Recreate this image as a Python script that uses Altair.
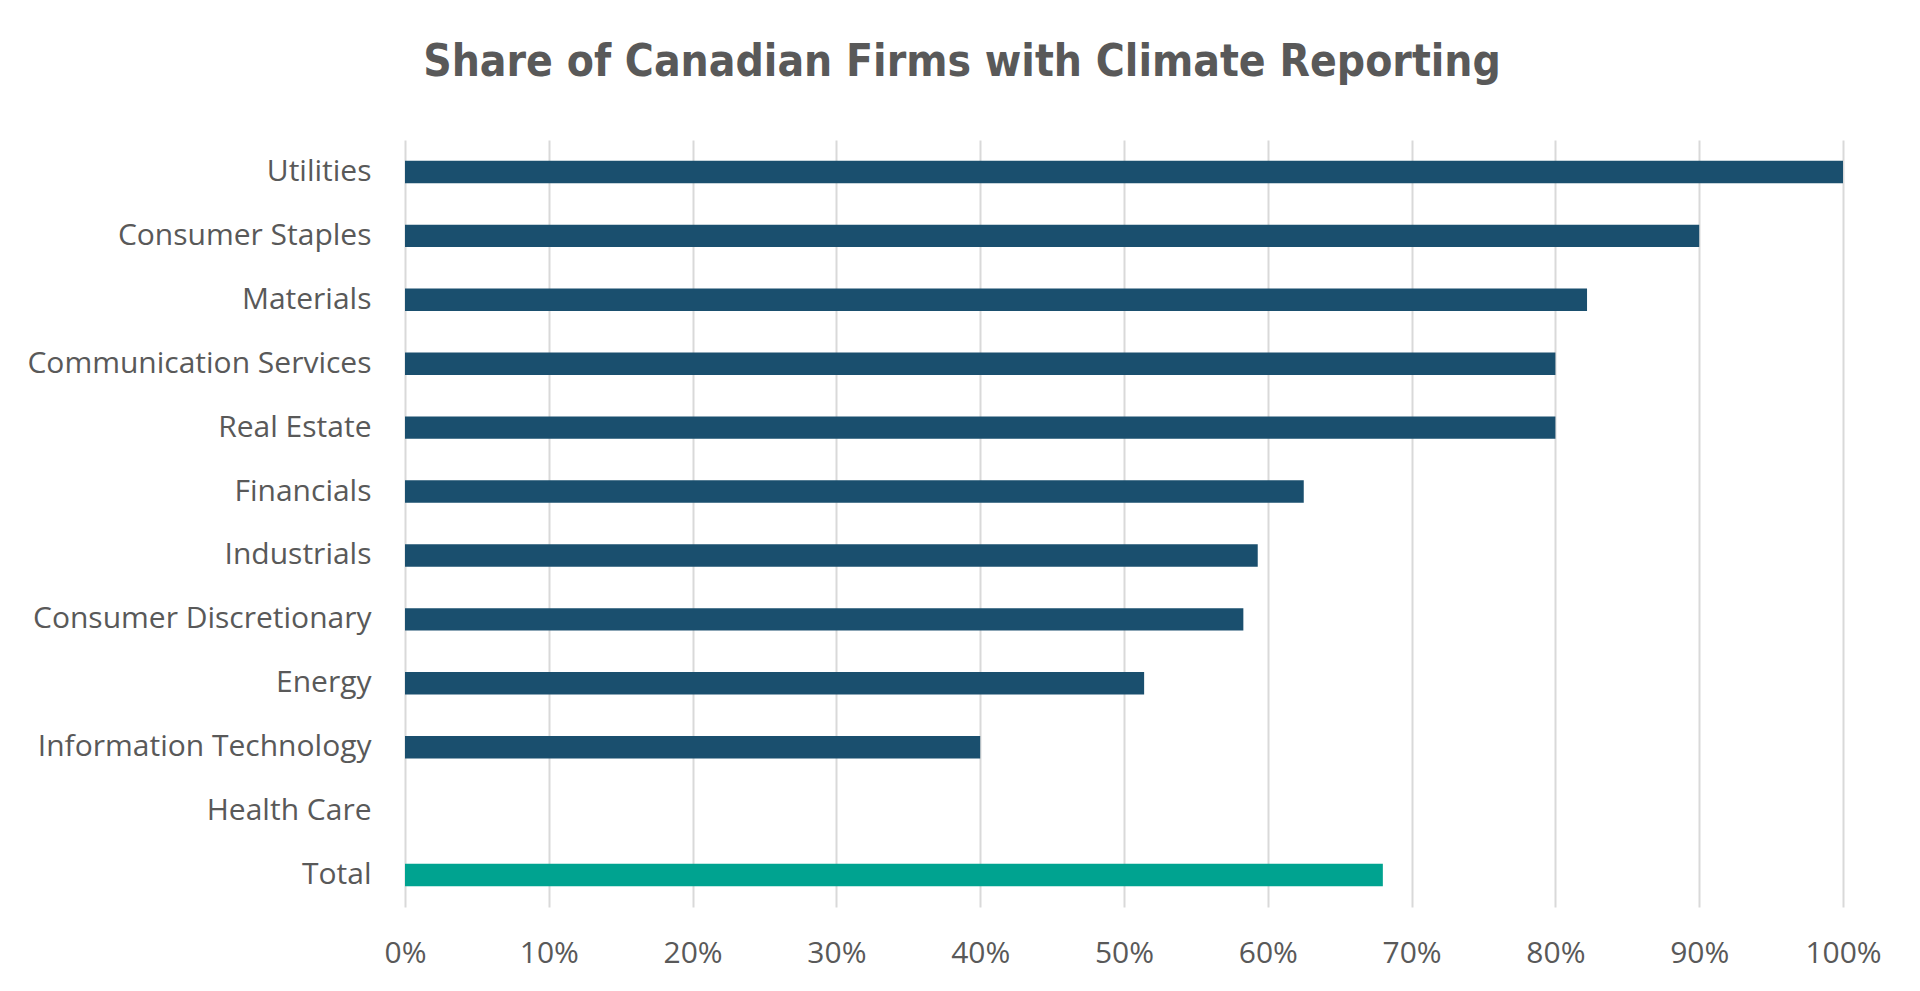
import altair as alt
import pandas as pd

categories = ["Utilities", "Consumer Staples", "Materials", "Communication Services",
              "Real Estate", "Financials", "Industrials", "Consumer Discretionary",
              "Energy", "Information Technology", "Health Care", "Total"]
shares = [1.00, 0.90, 0.822, 0.80, 0.80, 0.625, 0.593, 0.583, 0.514, 0.40, 0.0, 0.68]
groups = ["Sector"] * 11 + ["Total"]

df = pd.DataFrame({"category": categories, "share": shares, "group": groups})

TXT = "#595959"
LABEL_FONT = "Open Sans"

chart = alt.Chart(df).mark_bar().encode(
    y=alt.Y("category:N", sort=categories,
            scale=alt.Scale(paddingInner=0.65, paddingOuter=0.325),
            axis=alt.Axis(title=None, ticks=False, tickSize=0, domain=False, grid=False,
                          labelFont=LABEL_FONT, labelFontSize=30, labelColor=TXT,
                          labelPadding=34, labelLimit=600)),
    x=alt.X("share:Q", scale=alt.Scale(domain=[0, 1], nice=False),
            axis=alt.Axis(title=None, format=".0%", values=[i / 10 for i in range(11)],
                          ticks=False, tickSize=0, domain=False, grid=True,
                          gridColor="#d9d9d9", gridWidth=2,
                          labelFont=LABEL_FONT, labelFontSize=30, labelColor=TXT,
                          labelPadding=31, labelFlush=False)),
    color=alt.Color("group:N", scale=alt.Scale(domain=["Sector", "Total"],
                                               range=["#1a4f6e", "#00a390"]),
                    legend=None),
).properties(
    width=1438,
    height=767,
    background="white",
    autosize=alt.AutoSizeParams(type="none"),
    padding={"left": 405, "top": 140, "right": 77, "bottom": 84},
    title=alt.TitleParams(
        "Share of Canadian Firms with Climate Reporting",
        font="Liberation Sans Narrow, DejaVu Sans Condensed, sans-serif",
        fontSize=44, fontWeight="bold", color=TXT,
        anchor="middle", dx=-162, baseline="alphabetic", offset=20,
    ),
).configure_view(strokeWidth=0, stroke=None)

chart.save("out.html", embed_options={"renderer": "svg", "actions": False})
